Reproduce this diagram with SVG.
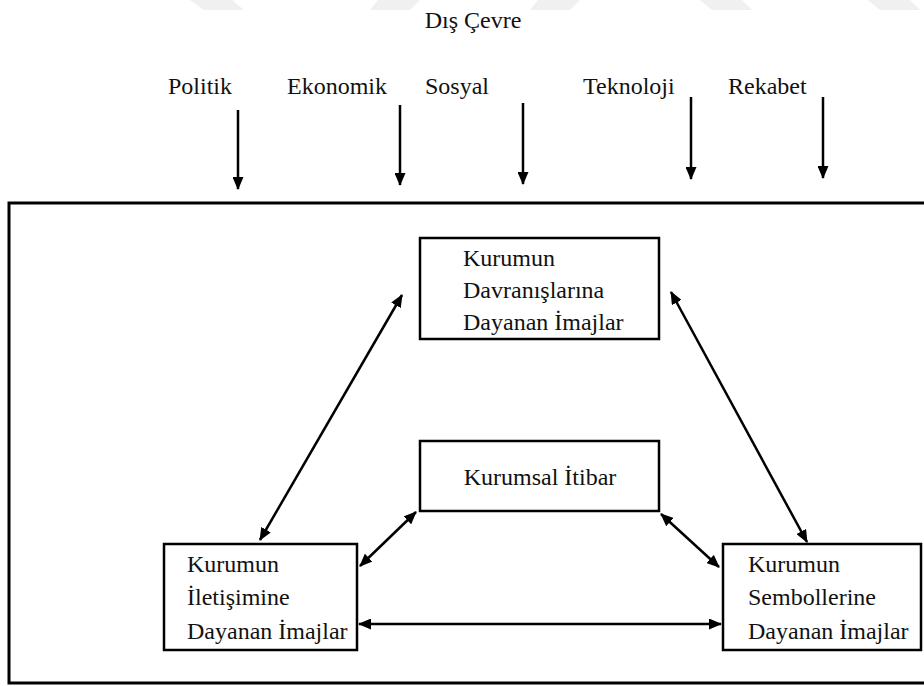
<svg xmlns="http://www.w3.org/2000/svg" width="924" height="686" viewBox="0 0 924 686">
  <style>
    .lbl { font-family: "Liberation Serif", "DejaVu Serif", "Times New Roman", serif; font-size: 24px; fill: #111; }
    .box { fill: #fff; stroke: #000; stroke-width: 2.5; }
    .frame { fill: #fff; stroke: #000; stroke-width: 3; }
    .wire { stroke: #000; stroke-width: 2.5; fill: none; }
    .one { marker-end: url(#head); }
    .two { marker-start: url(#tail); marker-end: url(#head); }
    .mark { fill: #f0f0f0; }
  </style>
  <defs>
    <marker id="head" viewBox="0 0 13 11" refX="12" refY="5.5" markerWidth="13" markerHeight="11" markerUnits="userSpaceOnUse" orient="auto">
      <path d="M0,0 L13,5.5 L0,11 Z" fill="#000"/>
    </marker>
    <marker id="tail" viewBox="0 0 13 11" refX="1" refY="5.5" markerWidth="13" markerHeight="11" markerUnits="userSpaceOnUse" orient="auto">
      <path d="M13,0 L0,5.5 L13,11 Z" fill="#000"/>
    </marker>
  </defs>

  <rect width="924" height="686" fill="#fff"/>

  <!-- faint stripe band along the top edge -->
  <g id="band">
    <polygon class="mark" points="190,0 232,0 244,10 204,10"/>
    <polygon class="mark" points="378,0 420,0 410,10 370,10"/>
    <polygon class="mark" points="538,0 580,0 570,10 530,10"/>
    <polygon class="mark" points="700,0 742,0 752,10 712,10"/>
    <polygon class="mark" points="868,0 910,0 920,10 880,10"/>
  </g>

  <!-- outer frame (runs past the right edge) -->
  <g id="frame">
    <rect class="frame" x="9" y="203" width="925" height="480"/>
  </g>

  <g id="title">
    <text class="lbl" x="473" y="28" text-anchor="middle">Dış Çevre</text>
  </g>

  <g id="factors">
    <text class="lbl" x="168" y="94">Politik</text>
    <text class="lbl" x="287" y="94">Ekonomik</text>
    <text class="lbl" x="425" y="94">Sosyal</text>
    <text class="lbl" x="583" y="94">Teknoloji</text>
    <text class="lbl" x="728" y="94">Rekabet</text>
  </g>

  <g id="davranis">
    <rect class="box" x="420" y="238" width="239" height="101"/>
    <text class="lbl" x="463" y="266">Kurumun</text>
    <text class="lbl" x="463" y="298">Davranışlarına</text>
    <text class="lbl" x="463" y="330">Dayanan İmajlar</text>
  </g>

  <g id="itibar">
    <rect class="box" x="420" y="441" width="239" height="70"/>
    <text class="lbl" x="540" y="485" text-anchor="middle">Kurumsal İtibar</text>
  </g>

  <g id="iletisim">
    <rect class="box" x="164" y="544" width="193" height="106"/>
    <text class="lbl" x="187" y="572">Kurumun</text>
    <text class="lbl" x="187" y="605">İletişimine</text>
    <text class="lbl" x="187" y="639">Dayanan İmajlar</text>
  </g>

  <g id="semboller">
    <rect class="box" x="723" y="544" width="198" height="106"/>
    <text class="lbl" x="748" y="572">Kurumun</text>
    <text class="lbl" x="748" y="605">Sembollerine</text>
    <text class="lbl" x="748" y="639">Dayanan İmajlar</text>
  </g>

  <g id="connectors">
    <line class="wire one" x1="238" y1="110" x2="238" y2="189"/>
    <line class="wire one" x1="400" y1="105" x2="400" y2="185"/>
    <line class="wire one" x1="523" y1="103" x2="523" y2="184"/>
    <line class="wire one" x1="691" y1="97" x2="691" y2="179"/>
    <line class="wire one" x1="823" y1="97" x2="823" y2="178"/>

    <line class="wire two" x1="260" y1="540" x2="402" y2="295"/>
    <line class="wire two" x1="671" y1="292" x2="807" y2="542"/>
    <line class="wire two" x1="360" y1="566" x2="416" y2="512"/>
    <line class="wire two" x1="661" y1="514" x2="719" y2="567"/>
    <line class="wire two" x1="359" y1="624" x2="721" y2="624"/>
  </g>
</svg>
